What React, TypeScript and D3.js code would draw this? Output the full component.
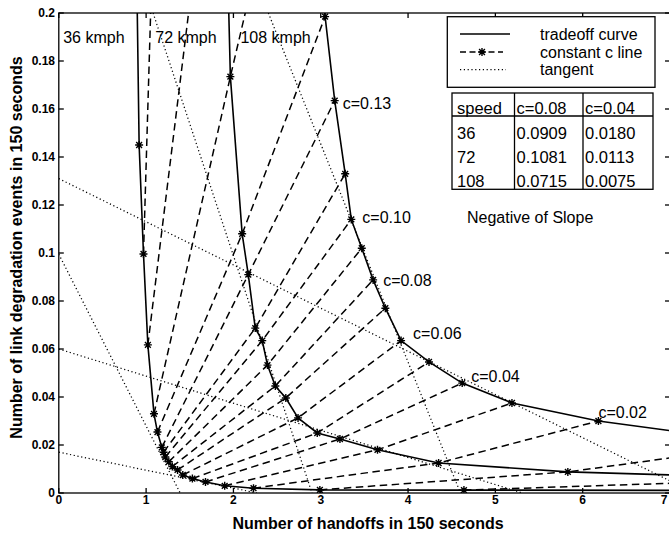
import React from 'react';
import * as d3 from 'd3';

const width = 669;
const height = 536;
const plot = { left: 58.8, right: 670, top: 13, bottom: 493 };
const font = '"Liberation Sans", Arial, Helvetica, sans-serif';

// stars on each tradeoff curve: [handoffs, link degradation events]
const stars36 = [
  [0.92, 0.145], [0.97, 0.0996], [1.02, 0.0617], [1.09, 0.033], [1.13, 0.0254],
  [1.18, 0.019], [1.2, 0.017], [1.22, 0.015], [1.26, 0.013], [1.3, 0.011],
  [1.36, 0.0096], [1.42, 0.0075], [1.53, 0.006], [1.68, 0.0046], [1.9, 0.003],
  [2.23, 0.002], [2.99, 0.0013], [4.64, 0.0012],
];
const stars72 = [
  [1.965, 0.1735], [2.1, 0.108], [2.17, 0.091], [2.25, 0.0687], [2.33, 0.0635],
  [2.39, 0.0533], [2.48, 0.0446], [2.6, 0.0396], [2.74, 0.0313], [2.96, 0.025],
  [3.22, 0.0225], [3.65, 0.018], [4.35, 0.0125], [5.83, 0.0088],
];
const stars108 = [
  [3.05, 0.1985], [3.16, 0.1635], [3.28, 0.133], [3.35, 0.114], [3.47, 0.102],
  [3.6, 0.0888], [3.74, 0.077], [3.92, 0.0635], [4.24, 0.0546], [4.62, 0.0458],
  [5.19, 0.0375], [6.18, 0.03],
];
// where the curves run off the frame
const ends36 = [[0.895, 0.21], [7.3, 0.0011]];
const ends72 = [[1.94, 0.21], [7.3, 0.0072]];
const ends108 = [[3.015, 0.21], [7.3, 0.0245]];

// constant c lines: star index on the 36 / 72 / 108 curve (-1 = not on the chart)
const cLine36 = [1, 2, 3, 4, 5, 6, 7, 8, 9, 10, 11, 12, 13, 14, 15, 16, 17];
const cLine72 = [-1, -1, 0, 1, 2, 3, 4, 5, 6, 7, 8, 9, 10, 11, 12, 13, -1];
const cLine108 = [-1, -1, -1, 0, 1, 2, 3, 4, 5, 6, 7, 8, 9, 10, 11, -1, -1];
// where a constant c line leaves the frame before reaching the next curve
const cLineExit = [
  [1.06, 0.21], [1.52, 0.21], [2.2, 0.21], null, null, null, null, null, null,
  null, null, null, null, null, null, [7.3, 0.0161], [7.3, 0.0044],
];

// c labels on the 108 kmph curve
const cLabelStar = [1, 3, 5, 7, 9, 11];
const cLabelText = ['c=0.13', 'c=0.10', 'c=0.08', 'c=0.06', 'c=0.04', 'c=0.02'];
const cLabelOffset = [[8, 3], [11, -2], [10, 0], [12, -7], [9, -7], [0, -9]];

// tangent lines (dotted)
const tangentFrom = [[0, 0.131], [0, 0.0995], [0, 0.06], [1.08, 0.2], [2.4, 0.2], [0, 0.017]];
const tangentTo = [[7.28, 0], [1.39, 0], [5.31, 0], [2.9, 0], [4.6, 0], [2.27, 0]];

const speedLabels = ['36 kmph', '72 kmph', '108 kmph'];
const speedLabelX = [0.05, 1.105, 2.08];

const tableHead = ['speed', 'c=0.08', 'c=0.04'];
const tableRows = [
  ['36', '0.0909', '0.0180'],
  ['72', '0.1081', '0.0113'],
  ['108', '0.0715', '0.0075'],
];

const xTicks = [0, 1, 2, 3, 4, 5, 6, 7];
const yTicks = [0, 0.02, 0.04, 0.06, 0.08, 0.1, 0.12, 0.14, 0.16, 0.18, 0.2];

const starPath = 'M-4,0H4M0,-4V4M-2.9,-2.9L2.9,2.9M-2.9,2.9L2.9,-2.9';

export default function App() {
  const x = d3.scaleLinear().domain([0, 7]).range([plot.left, plot.right]);
  const y = d3.scaleLinear().domain([0, 0.2]).range([plot.bottom, plot.top]);
  const line = d3.line<number[]>().x(d => x(d[0])).y(d => y(d[1]));

  const curves = [
    [ends36[0], ...stars36, ends36[1]],
    [ends72[0], ...stars72, ends72[1]],
    [ends108[0], ...stars108, ends108[1]],
  ];
  const allStars = [...stars36, ...stars72, ...stars108];

  const cLines = cLine36.map((i36, k) => {
    const pts = [stars36[i36]];
    if (cLine72[k] >= 0) pts.push(stars72[cLine72[k]]);
    if (cLine108[k] >= 0) pts.push(stars108[cLine108[k]]);
    if (cLineExit[k]) pts.push(cLineExit[k] as number[]);
    return pts;
  });

  const yFmt = (d: number) => (d === 0 ? '0' : String(+d.toFixed(2)));
  // last x tick label sits at the window edge; keep it inside
  const xLabelPos = (t: number) => Math.min(x(t), width - 5);

  // table layout
  const tCols = [452, 514.5, 583, 653];
  const tTextX = [457, 516.5, 585];
  const tTop = 93, tHead = 116, tBottom = 189.3;
  const tBase = [114, 138.5, 163.3, 187.3];

  return (
    <svg width={width} height={height} style={{ position: 'absolute', left: 0, top: 0, display: 'block', background: '#fff' }}
      fontFamily={font}>
      <defs>
        <clipPath id="plotArea">
          <rect x={plot.left} y={plot.top} width={plot.right - plot.left} height={plot.bottom - plot.top} />
        </clipPath>
      </defs>

      <g clipPath="url(#plotArea)" fill="none" stroke="#000">
        {tangentFrom.map((p, i) => (
          <path key={'t' + i} d={line([p, tangentTo[i]]) || ''} strokeWidth={1.25} strokeDasharray="1.2 2.6" />
        ))}
        {cLines.map((pts, i) => (
          <path key={'c' + i} d={line(pts) || ''} strokeWidth={1.5} strokeDasharray="7.5 4.5" />
        ))}
        {curves.map((pts, i) => (
          <path key={'s' + i} d={line(pts) || ''} strokeWidth={1.6} />
        ))}
        {allStars.map((p, i) => (
          <path key={'m' + i} d={starPath} transform={`translate(${x(p[0])},${y(p[1])})`} strokeWidth={1.4} />
        ))}
      </g>

      {/* frame and inward ticks */}
      <g stroke="#000" strokeWidth={1.3} fill="none">
        <rect x={plot.left} y={plot.top} width={plot.right - plot.left} height={plot.bottom - plot.top} />
        {xTicks.map(t => (
          <g key={'xt' + t}>
            <line x1={x(t)} x2={x(t)} y1={plot.bottom} y2={plot.bottom - 5} />
            <line x1={x(t)} x2={x(t)} y1={plot.top} y2={plot.top + 5} />
          </g>
        ))}
        {yTicks.map(t => (
          <g key={'yt' + t}>
            <line x1={plot.left} x2={plot.left + 5} y1={y(t)} y2={y(t)} />
            <line x1={plot.right} x2={plot.right - 5} y1={y(t)} y2={y(t)} />
          </g>
        ))}
      </g>

      <g fontSize={12} fontWeight="bold" fill="#000">
        {xTicks.map(t => (
          <text key={'xl' + t} x={xLabelPos(t)} y={504} textAnchor="middle">{t}</text>
        ))}
        {yTicks.map(t => (
          <text key={'yl' + t} x={55} y={y(t)} dy="0.35em" textAnchor="end">{yFmt(t)}</text>
        ))}
      </g>

      <text x={368} y={529} fontSize={16} fontWeight="bold" textAnchor="middle">
        Number of handoffs in 150 seconds
      </text>
      <text transform={`translate(22,${247.5}) rotate(-90)`} fontSize={16} fontWeight="bold" textAnchor="middle">
        Number of link degradation events in 150 seconds
      </text>

      <g fontSize={16} fill="#000">
        {speedLabels.map((s, i) => (
          <text key={s} x={x(speedLabelX[i])} y={43}>{s}</text>
        ))}
        {cLabelStar.map((si, i) => (
          <text key={'cl' + i} x={x(stars108[si][0]) + cLabelOffset[i][0]} y={y(stars108[si][1]) + cLabelOffset[i][1] + 5.8}>
            {cLabelText[i]}
          </text>
        ))}
        <text x={467} y={223}>Negative of Slope</text>
      </g>

      {/* legend */}
      <g>
        <rect x={447.3} y={16.7} width={207.7} height={70.6} fill="#fff" stroke="#000" strokeWidth={1.3} />
        <line x1={460} x2={510} y1={34} y2={34} stroke="#000" strokeWidth={1.6} />
        <line x1={460} x2={503} y1={52} y2={52} stroke="#000" strokeWidth={1.5} strokeDasharray="6 3.5" />
        <path d={starPath} transform="translate(482,52)" stroke="#000" strokeWidth={1.4} fill="none" />
        <line x1={460} x2={506} y1={69.5} y2={69.5} stroke="#000" strokeWidth={1.25} strokeDasharray="1.2 2.6" />
        <g fontSize={16}>
          <text x={540} y={40}>tradeoff curve</text>
          <text x={540} y={57.5}>constant c line</text>
          <text x={540} y={74.5}>tangent</text>
        </g>
      </g>

      {/* slope table */}
      <g stroke="#000" strokeWidth={1.3} fill="none">
        <rect x={tCols[0]} y={tTop} width={tCols[3] - tCols[0]} height={tBottom - tTop} fill="#fff" />
        <line x1={tCols[0]} x2={tCols[3]} y1={tHead} y2={tHead} />
        {tCols.slice(1, 3).map(c => (
          <line key={'tc' + c} x1={c} x2={c} y1={tTop} y2={tBottom} />
        ))}
      </g>
      <g fontSize={16.5} fill="#000">
        {tableHead.map((h, i) => (
          <text key={'th' + i} x={tTextX[i]} y={tBase[0]}>{h}</text>
        ))}
        {tableRows.map((r, ri) =>
          r.map((v, ci) => (
            <text key={`td${ri}-${ci}`} x={tTextX[ci]} y={tBase[ri + 1]}>{v}</text>
          ))
        )}
      </g>
    </svg>
  );
}
